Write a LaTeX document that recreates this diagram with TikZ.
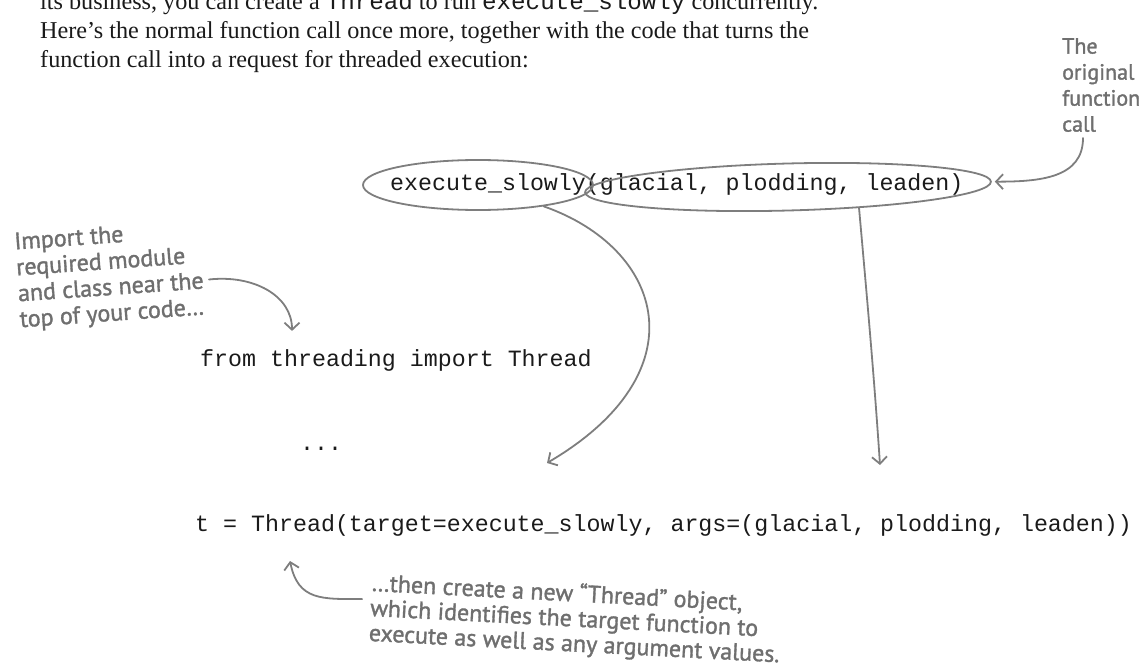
\documentclass[tikz,border=0pt]{standalone}
\usepackage{fontspec}
\setmainfont{Liberation Serif}
\setmonofont{Liberation Mono}
\newfontfamily\handfont[FakeBold=1.4]{PT Sans}
\usetikzlibrary{positioning,shapes.geometric,arrows.meta,calc}
\definecolor{ink}   {HTML}{1A1A1A}
\definecolor{pencil}{HTML}{6F6F6F}
\definecolor{lead}  {HTML}{7E7E7E}
\tikzset{
  % --- nodes
  body/.style  = {anchor=base west, inner sep=0pt, text=ink,
                  font=\fontsize{24.2}{29}\selectfont},
  code/.style  = {anchor=base west, inner sep=0pt, text=ink,
                  font=\fontsize{23.3}{28}\ttfamily},
  hand/.style  = {inner sep=0pt, align=left, text=pencil,
                  font=\handfont\fontsize{24}{26}\selectfont},
  ring/.style  = {ellipse, draw=lead, line width=1.8pt, inner sep=0pt},
  % --- edges
  scrawl/.style= {draw=lead, line width=1.8pt, line cap=round,
                  -{Straight Barb[length=7pt,width=15pt,line width=1.8pt]}},
}
\begin{document}
\begin{tikzpicture}[x=1pt,y=-1pt]
  \useasboundingbox (0,0) rectangle (1147,671);
  % --- running text
  \node[body] (para1) at (40,10) {its business, you can create a \texttt{Thread} to run \texttt{execute\_slowly} concurrently.};
  \node[body] (para2) at (40,39) {Here's the normal function call once more, together with the code that turns the};
  \node[body] (para3) at (40,68) {function call into a request for threaded execution:};
  % --- code
  \node[code] (callline)   at (390,190) {execute\_slowly(glacial, plodding, leaden)};
  \node[code] (fromline)   at (200,366) {from threading import Thread};
  \node[code] (dotsline)   at (300,450) {...};
  \node[code] (threadline) at (195,531) {t = Thread(target=execute\_slowly, args=(glacial, plodding, leaden))};
  \node[ring, minimum width=230pt, minimum height=50pt] (fn) at (478,185) {};
  \node[ring, minimum width=406pt, minimum height=47pt, rotate=1.5] (args) at (788,187) {};
  % --- handwritten notes
  \node[hand, anchor=north west, font=\handfont\fontsize{22}{26}\selectfont] (orignote) at (1062,38) {The\\original\\function\\call};
  \node[hand, rotate=4] (importnote) at (110,276) {Import the\\required module\\and class near the\\top of your code…};
  \node[hand, rotate=-3, anchor=north west, font=\handfont\fontsize{24}{25}\selectfont] (objnote) at (372,572) {…then create a new “Thread” object,\\which identifies the target function to\\execute as well as any argument values.};
  % --- arrows
  \draw[scrawl] ($(orignote.south west)+(21,6)$) .. controls +(0,40) and +(45,0) .. ([xshift=3pt]args.east);
  \draw[scrawl] ($(importnote.east)+(6,10)$) .. controls +(45,-5) and +(0,-35) .. ($(fromline.north west)+(92,-18)$);
  \draw[scrawl] (fn.-18) .. controls +(120,42) and +(155,-91) .. ($(threadline.base west)+(352,-68)$);
  \draw[scrawl] (args.-18) .. controls +(8,90) and +(-6,-90) .. ($(threadline.base west)+(685,-66)$);
  \draw[scrawl] ($(objnote.west)+(-8,-10)$) .. controls +(-40,0) and +(8,40) .. ($(threadline.base west)+(95,30)$);
\end{tikzpicture}
\end{document}
